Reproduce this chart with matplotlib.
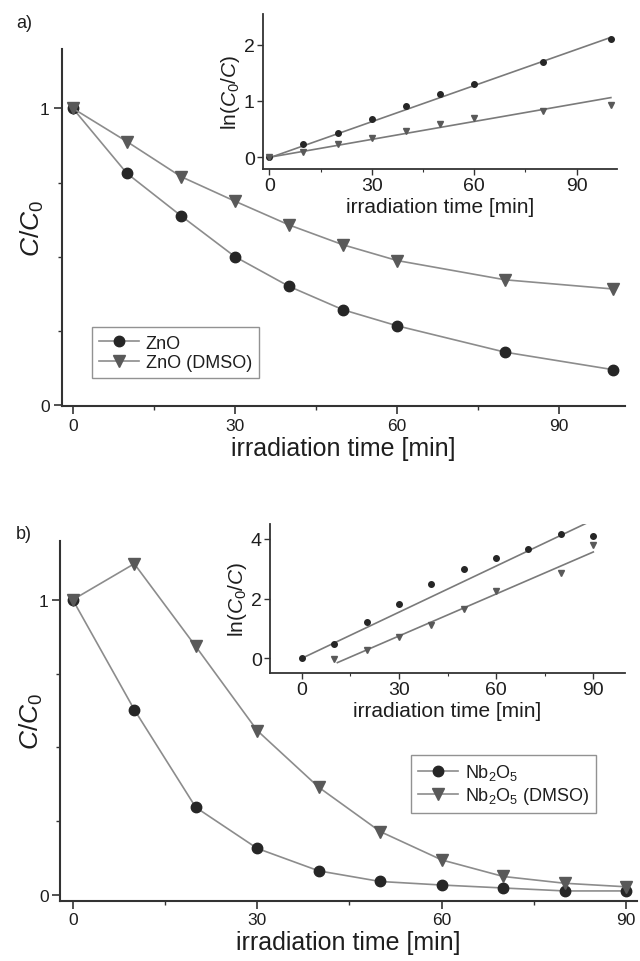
import matplotlib
matplotlib.use("Agg")
import matplotlib.pyplot as plt
import numpy as np

plt.rcParams['font.family'] = ['Liberation Sans', 'DejaVu Sans']
plt.rcParams['mathtext.fontset'] = 'custom'
plt.rcParams['mathtext.rm'] = 'Liberation Sans'
plt.rcParams['mathtext.it'] = 'Liberation Sans:italic'
plt.rcParams['mathtext.bf'] = 'Liberation Sans:bold'

# ---------------- data ----------------
# panel a (ZnO)
t_a = [0, 10, 20, 30, 40, 50, 60, 80, 100]
zno = [1.0, 0.781, 0.638, 0.500, 0.400, 0.321, 0.267, 0.178, 0.119]
zno_dmso = [1.0, 0.888, 0.770, 0.687, 0.607, 0.540, 0.487, 0.422, 0.391]
ln_zno = [0.0, 0.23, 0.43, 0.675, 0.905, 1.12, 1.30, 1.70, 2.10]
ln_zno_dmso = [0.0, 0.09, 0.23, 0.35, 0.46, 0.585, 0.70, 0.83, 0.92]
fit_a_range = [0, 100]
fit_a_zno = (0.0214, -0.01)       # slope, intercept
fit_a_dmso = (0.0106, 0.0)

# panel b (Nb2O5)
t_b = [0, 10, 20, 30, 40, 50, 60, 70, 80, 90]
nb = [1.0, 0.628, 0.297, 0.158, 0.082, 0.046, 0.034, 0.024, 0.014, 0.014]
nb_dmso = [1.0, 1.122, 0.842, 0.557, 0.365, 0.215, 0.119, 0.063, 0.040, 0.028]
ln_nb = [0.0, 0.47, 1.21, 1.83, 2.48, 2.99, 3.35, 3.65, 4.15, 4.09]
t_b_dmso_ln = [10, 20, 30, 40, 50, 60, 80, 90]
ln_nb_dmso = [-0.02, 0.28, 0.70, 1.12, 1.65, 2.25, 2.86, 3.80]
fit_b_nb_range = [0, 90]
fit_b_nb = (0.0515, 0.0)
fit_b_dmso_range = [11, 90]
fit_b_dmso = (0.0469, -0.659)

xticks_main_a = [0, 30, 60, 90]
xticks_main_b = [0, 30, 60, 90]
yticks_main = [0, 1]

# ---------------- style ----------------
LINE = '#8c8c8c'
C_DARK = '#262626'
C_TRI = '#595959'
SPINE = '#333333'
TXT = '#1e1e1e'

fig = plt.figure(figsize=(6.4, 9.62), dpi=100)

def style_main(ax):
    for s in ['top', 'right']:
        ax.spines[s].set_visible(False)
    for s in ['left', 'bottom']:
        ax.spines[s].set_color(SPINE)
        ax.spines[s].set_linewidth(1.5)
    ax.tick_params(which='major', direction='out', length=5.5, width=1.2,
                   colors=SPINE, labelcolor=TXT, labelsize=12.5, pad=3)
    ax.tick_params(which='minor', direction='out', length=3, width=1.0, colors=SPINE)

def style_inset(ax):
    for s in ['top', 'right']:
        ax.spines[s].set_visible(False)
    for s in ['left', 'bottom']:
        ax.spines[s].set_color(SPINE)
        ax.spines[s].set_linewidth(1.3)
    ax.tick_params(which='major', direction='out', length=4, width=1.0,
                   colors=SPINE, labelcolor=TXT, labelsize=14, pad=2)
    ax.tick_params(which='minor', direction='out', length=2.5, width=0.8, colors=SPINE)
    ax.patch.set_alpha(0)

def style_legend(leg):
    leg.get_frame().set_edgecolor('#777777')
    leg.get_frame().set_linewidth(1.0)
    for t in leg.get_texts():
        t.set_color(TXT)

# ---------------- panel a ----------------
axa = fig.add_axes([0.0961, 0.5766, 0.8797, 0.3714])
style_main(axa)
axa.plot(t_a, zno, '-', color=LINE, lw=1.2, marker='o', ms=7.5,
         mfc=C_DARK, mec=C_DARK, label='ZnO', zorder=3)
axa.plot(t_a, zno_dmso, '-', color=LINE, lw=1.2, marker='v', ms=8.5,
         mfc=C_TRI, mec=C_TRI, label='ZnO (DMSO)', zorder=3)
axa.set_xlim(-2.1, 102.1)
axa.set_ylim(-0.0045, 1.2)
axa.set_xticks(xticks_main_a)
axa.set_xticks([15, 45, 75], minor=True)
axa.set_yticks(yticks_main)
axa.set_yticks([0.25, 0.5, 0.75], minor=True)
axa.set_xlabel('irradiation time [min]', fontsize=18, color=TXT, labelpad=2)
axa.set_ylabel(r'$\mathit{C}/\mathit{C}_\mathrm{0}$', fontsize=19, color=TXT, labelpad=-4.5)
leg = axa.legend(loc='upper left', bbox_to_anchor=(0.0536, 0.2211), borderaxespad=0,
                 fontsize=13, frameon=True, fancybox=False, handlelength=2.2,
                 handletextpad=0.4, labelspacing=0.15, borderpad=0.4)
style_legend(leg)

ia = fig.add_axes([0.411, 0.8233, 0.5531, 0.1611])
style_inset(ia)
ia.plot(t_a, ln_zno, 'o', ms=4, color=C_DARK, zorder=3)
ia.plot(t_a, ln_zno_dmso, 'v', ms=4.5, color=C_TRI, zorder=3)
xa = np.array(fit_a_range, dtype=float)
ia.plot(xa, fit_a_zno[0] * xa + fit_a_zno[1], '-', color='#7a7a7a', lw=1.2)
ia.plot(xa, fit_a_dmso[0] * xa + fit_a_dmso[1], '-', color='#7a7a7a', lw=1.2)
ia.set_xlim(-1.84, 101.8)
ia.set_ylim(-0.208, 2.545)
ia.set_xticks([0, 30, 60, 90])
ia.set_xticks([15, 45, 75], minor=True)
ia.set_yticks([0, 1, 2])
ia.set_xlabel('irradiation time [min]', fontsize=15, color=TXT, labelpad=2)
ia.set_ylabel(r'ln($\mathit{C}_\mathrm{0}$/$\mathit{C}$)', fontsize=15, color=TXT, labelpad=1)

fig.text(0.025, 0.976, 'a)', fontsize=13, color=TXT, va='center', ha='left')

# ---------------- panel b ----------------
axb = fig.add_axes([0.0945, 0.0627, 0.9003, 0.3742])
style_main(axb)
axb.plot(t_b, nb, '-', color=LINE, lw=1.2, marker='o', ms=7.5,
         mfc=C_DARK, mec=C_DARK, label=r'Nb$_\mathrm{2}$O$_\mathrm{5}$', zorder=3)
axb.plot(t_b, nb_dmso, '-', color=LINE, lw=1.2, marker='v', ms=8.5,
         mfc=C_TRI, mec=C_TRI, label=r'Nb$_\mathrm{2}$O$_\mathrm{5}$ (DMSO)', zorder=3)
axb.set_xlim(-2, 91.7)
axb.set_ylim(-0.019, 1.2)
axb.set_xticks(xticks_main_b)
axb.set_xticks([15, 45, 75], minor=True)
axb.set_yticks(yticks_main)
axb.set_yticks([0.25, 0.5, 0.75], minor=True)
axb.set_xlabel('irradiation time [min]', fontsize=18, color=TXT, labelpad=2)
axb.set_ylabel(r'$\mathit{C}/\mathit{C}_\mathrm{0}$', fontsize=19, color=TXT, labelpad=-4.5)
legb = axb.legend(loc='upper left', bbox_to_anchor=(0.6078, 0.4047), borderaxespad=0,
                  fontsize=13, frameon=True, fancybox=False, handlelength=2.2,
                  handletextpad=0.4, labelspacing=0.15, borderpad=0.4)
style_legend(legb)

ib = fig.add_axes([0.4219, 0.2994, 0.5547, 0.1549])
style_inset(ib)
ib.plot(t_b, ln_nb, 'o', ms=4, color=C_DARK, zorder=3)
ib.plot(t_b_dmso_ln, ln_nb_dmso, 'v', ms=4.5, color=C_TRI, zorder=3)
xb1 = np.array(fit_b_nb_range, dtype=float)
xb2 = np.array(fit_b_dmso_range, dtype=float)
ib.plot(xb1, fit_b_nb[0] * xb1 + fit_b_nb[1], '-', color='#7a7a7a', lw=1.2)
ib.plot(xb2, fit_b_dmso[0] * xb2 + fit_b_dmso[1], '-', color='#7a7a7a', lw=1.2)
ib.set_xlim(-9.8, 99.8)
ib.set_ylim(-0.49, 4.5)
ib.set_xticks([0, 30, 60, 90])
ib.set_xticks([15, 45, 75], minor=True)
ib.set_yticks([0, 2, 4])
ib.set_xlabel('irradiation time [min]', fontsize=15, color=TXT, labelpad=2)
ib.set_ylabel(r'ln($\mathit{C}_\mathrm{0}$/$\mathit{C}$)', fontsize=15, color=TXT, labelpad=1)

fig.text(0.025, 1 - 535 / 962, 'b)', fontsize=13, color=TXT, va='center', ha='left')

fig.savefig('out.png', dpi=100)
